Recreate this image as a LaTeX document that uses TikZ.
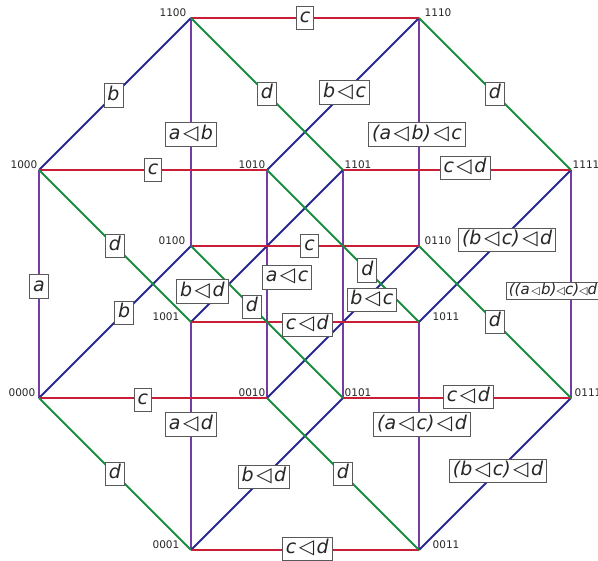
\documentclass[tikz,border=0pt]{standalone}
\usepackage{fontspec}
\setmainfont{DejaVu Sans}

\definecolor{edgered}{RGB}{200,30,55}
\definecolor{edgepurple}{RGB}{117,60,165}
\definecolor{edgeblue}{RGB}{40,40,145}
\definecolor{edgegreen}{RGB}{25,140,65}

\newcommand{\lop}{\hspace{2.5pt}{\upshape\fontsize{20}{20}\selectfont ◁}\hspace{2.5pt}}
\newcommand{\slop}{{\upshape\fontsize{11}{11}\selectfont ◁}}

\begin{document}
\begin{tikzpicture}[x=76pt, y=76pt,
    edge/.style={line width=1.8pt},
    lbl/.style={draw=black!65, line width=0.8pt, fill=white, text=black!85,
        font=\fontsize{19}{19}\selectfont\itshape,
        inner xsep=3.5pt, inner ysep=3pt, text height=13.5pt, text depth=4pt},
    smalllbl/.style={lbl, font=\fontsize{15}{15}\selectfont\itshape,
        inner sep=2pt, text height=10.5pt, text depth=3pt},
    vlbl/.style={font=\fontsize{10.5}{11}\selectfont, inner sep=1.5pt, text=black!85}]
    \useasboundingbox (-39pt,-11pt) rectangle (559pt,550pt);

    % vertices of the cube
    \coordinate (v0000) at (0,2);
    \coordinate (v1000) at (0,5);
    \coordinate (v0100) at (2,4);
    \coordinate (v1100) at (2,7);
    \coordinate (v0010) at (3,2);
    \coordinate (v1010) at (3,5);
    \coordinate (v0110) at (5,4);
    \coordinate (v1110) at (5,7);
    \coordinate (v0001) at (2,0);
    \coordinate (v1001) at (2,3);
    \coordinate (v0101) at (4,2);
    \coordinate (v1101) at (4,5);
    \coordinate (v0011) at (5,0);
    \coordinate (v1011) at (5,3);
    \coordinate (v0111) at (7,2);
    \coordinate (v1111) at (7,5);

    \node[vlbl, above left, xshift=-2pt] (n0000) at (v0000) {0000};
    \node[vlbl, above left] (n1000) at (v1000) {1000};
    \node[vlbl, above left, xshift=-4pt] (n0100) at (v0100) {0100};
    \node[vlbl, above left, xshift=-3pt] (n1100) at (v1100) {1100};
    \node[vlbl, above left] (n0010) at (v0010) {0010};
    \node[vlbl, above left] (n1010) at (v1010) {1010};
    \node[vlbl, above right, xshift=4pt] (n0110) at (v0110) {0110};
    \node[vlbl, above right, xshift=4pt] (n1110) at (v1110) {1110};
    \node[vlbl, above left, xshift=-10pt] (n0001) at (v0001) {0001};
    \node[vlbl, above left, xshift=-10pt] (n1001) at (v1001) {1001};
    \node[vlbl, above right] (n0101) at (v0101) {0101};
    \node[vlbl, above right] (n1101) at (v1101) {1101};
    \node[vlbl, above right, xshift=12pt] (n0011) at (v0011) {0011};
    \node[vlbl, above right, xshift=12pt] (n1011) at (v1011) {1011};
    \node[vlbl, above right, xshift=2pt] (n0111) at (v0111) {0111};
    \node[vlbl, above right] (n1111) at (v1111) {1111};

    % edges, one colour per direction
    \draw[edge, edgepurple] (v0000) -- (v1000) (v0100) -- (v1100) (v0010) -- (v1010) (v0001) -- (v1001)
        (v0110) -- (v1110) (v0101) -- (v1101) (v0011) -- (v1011) (v0111) -- (v1111);
    \draw[edge, edgeblue] (v0000) -- (v0100) (v1000) -- (v1100) (v0010) -- (v0110) (v1010) -- (v1110)
        (v0001) -- (v0101) (v1001) -- (v1101) (v0011) -- (v0111) (v1011) -- (v1111);
    \draw[edge, edgered] (v0000) -- (v0010) (v1000) -- (v1010) (v0100) -- (v0110) (v1100) -- (v1110)
        (v0001) -- (v0011) (v1001) -- (v1011) (v0101) -- (v0111) (v1101) -- (v1111);
    \draw[edge, edgegreen] (v0000) -- (v0001) (v1000) -- (v1001) (v0100) -- (v0101) (v1100) -- (v1101)
        (v0010) -- (v0011) (v1010) -- (v1011) (v0110) -- (v0111) (v1110) -- (v1111);

    % labels on the edges
    \path (v0000) -- node[lbl, pos=.49] (ea0000) {a} (v1000);
    \path (v0100) -- node[lbl, pos=.49] (ea0100) {a\lop b} (v1100);
    \path (v0010) -- node[lbl, pos=.53, xshift=20pt] (ea0010) {a\lop c} (v1010);
    \path (v0001) -- node[lbl, pos=.55] (ea0001) {a\lop d} (v1001);
    \path (v0110) -- node[lbl, pos=.49, xshift=-2pt] (ea0110) {(a\lop b)\lop c} (v1110);
    \path (v0011) -- node[lbl, pos=.55, xshift=3pt] (ea0011) {(a\lop c)\lop d} (v1011);
    \path (v0111) -- node[smalllbl, pos=.47, xshift=-18pt] (ea0111) {((a\hspace{1.5pt}\slop\hspace{1.5pt}b)\slop c)\slop d} (v1111);

    \path (v0000) -- node[lbl, pos=.56] (eb0000) {b} (v0100);
    \path (v1000) -- node[lbl, pos=.49] (eb1000) {b} (v1100);
    \path (v0010) -- node[lbl, pos=.69, yshift=-7pt] (eb0010) {b\lop c} (v0110);
    \path (v1010) -- node[lbl, pos=.51] (eb1010) {b\lop c} (v1110);
    \path (v0001) -- node[lbl, pos=.48] (eb0001) {b\lop d} (v0101);
    \path (v1001) -- node[lbl, pos=.2, xshift=-19pt] (eb1001) {b\lop d} (v1101);
    \path (v0011) -- node[lbl, pos=.52] (eb0011) {(b\lop c)\lop d} (v0111);
    \path (v1011) -- node[lbl, pos=.56, xshift=3pt, yshift=-3pt] (eb1011) {(b\lop c)\lop d} (v1111);

    \path (v1100) -- node[lbl, pos=.5] (ec1100) {c} (v1110);
    \path (v1000) -- node[lbl, pos=.5] (ec1000) {c} (v1010);
    \path (v0100) -- node[lbl, pos=.52] (ec0100) {c} (v0110);
    \path (v0000) -- node[lbl, pos=.455, yshift=-2pt] (ec0000) {c} (v0010);
    \path (v1101) -- node[lbl, pos=.535, yshift=2pt] (ec1101) {c\lop d} (v1111);
    \path (v1001) -- node[lbl, pos=.51, yshift=-3pt] (ec1001) {c\lop d} (v1011);
    \path (v0101) -- node[lbl, pos=.55, yshift=1pt] (ec0101) {c\lop d} (v0111);
    \path (v0001) -- node[lbl, pos=.51, yshift=1pt] (ec0001) {c\lop d} (v0011);

    \path (v1100) -- node[lbl, pos=.5] (ed1100) {d} (v1101);
    \path (v1110) -- node[lbl, pos=.5] (ed1110) {d} (v1111);
    \path (v1000) -- node[lbl, pos=.5] (ed1000) {d} (v1001);
    \path (v0100) -- node[lbl, pos=.4] (ed0100) {d} (v0101);
    \path (v1010) -- node[lbl, pos=.66] (ed1010) {d} (v1011);
    \path (v0110) -- node[lbl, pos=.5] (ed0110) {d} (v0111);
    \path (v0000) -- node[lbl, pos=.5] (ed0000) {d} (v0001);
    \path (v0010) -- node[lbl, pos=.5] (ed0010) {d} (v0011);
\end{tikzpicture}
\end{document}
